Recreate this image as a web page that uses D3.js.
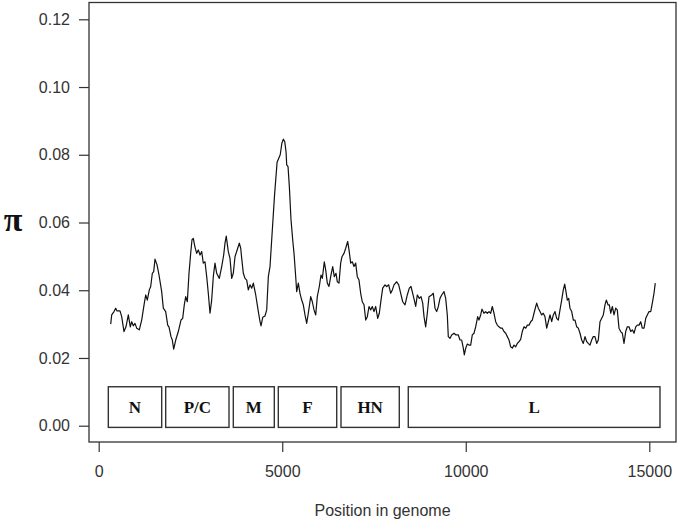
<!DOCTYPE html>
<html>
<head>
<meta charset="utf-8">
<script src="https://cdnjs.cloudflare.com/ajax/libs/d3/7.8.5/d3.min.js"></script>
<style>
  body{margin:0;background:#fff;}
  .tick text{font-family:"Liberation Sans",Arial,sans-serif;font-size:16px;fill:#333;}
  .genelbl{font-family:"Liberation Serif","Times New Roman",serif;font-weight:bold;font-size:17px;fill:#111;}
</style>
</head>
<body>
<div id="chart"></div>
<script>
// sliding window nucleotide diversity along the genome
var positions = [327,354,417,463,499,580,626,689,743,807,861,899,943,989,1035,1106,1171,1243,1281,1324,1379,1417,1461,1498,1534,1589,1643,1716,1760,1825,1880,1916,1970,2005,2043,2098,2169,2242,2288,2332,2370,2414,2460,2506,2542,2577,2620,2670,2714,2760,2806,2850,2896,2942,2986,3032,3078,3122,3168,3214,3286,3351,3405,3441,3475,3531,3577,3623,3667,3713,3787,3831,3869,3896,3940,3986,4032,4076,4122,4168,4213,4278,4349,4395,4422,4469,4530,4577,4621,4667,4713,4790,4860,4945,4990,5030,5068,5104,5122,5158,5194,5239,5285,5321,5367,5394,5438,5484,5530,5574,5620,5666,5710,5776,5820,5866,5912,5955,6010,6056,6092,6146,6184,6228,6274,6320,6375,6418,6465,6500,6546,6592,6628,6683,6729,6783,6819,6865,6909,6955,7001,7045,7091,7137,7181,7228,7274,7318,7364,7410,7454,7500,7546,7601,7645,7691,7737,7800,7846,7900,7955,7999,8045,8118,8173,8227,8282,8345,8407,8462,8508,8554,8598,8636,8680,8735,8781,8827,8863,8908,8952,8998,9072,9116,9162,9208,9253,9298,9344,9407,9453,9497,9524,9572,9616,9679,9733,9797,9843,9889,9933,9961,9999,10043,10089,10134,10178,10224,10270,10325,10360,10406,10442,10496,10543,10587,10633,10679,10723,10769,10815,10859,10905,10951,10995,11041,11088,11132,11178,11224,11268,11314,11360,11404,11450,11496,11540,11586,11633,11677,11723,11769,11813,11859,11906,11932,11976,12022,12068,12112,12158,12205,12249,12295,12341,12385,12431,12477,12521,12567,12613,12657,12695,12730,12766,12804,12839,12886,12930,12976,13022,13066,13112,13158,13202,13249,13295,13338,13384,13430,13474,13520,13567,13611,13657,13703,13747,13793,13829,13875,13911,13949,13993,14039,14085,14128,14174,14221,14265,14311,14357,14401,14448,14494,14538,14584,14630,14674,14720,14766,14810,14857,14903,14946,14992,15039,15082,15128,15163];
var piValues = [0.0300,0.0327,0.0337,0.0347,0.0339,0.0339,0.0322,0.0278,0.0292,0.0327,0.0292,0.0307,0.0295,0.0302,0.0288,0.0283,0.0312,0.0362,0.0386,0.0371,0.0401,0.0411,0.0450,0.0455,0.0492,0.0475,0.0445,0.0396,0.0347,0.0337,0.0297,0.0291,0.0263,0.0253,0.0226,0.0253,0.0278,0.0312,0.0317,0.0357,0.0381,0.0366,0.0450,0.0509,0.0549,0.0553,0.0529,0.0509,0.0519,0.0504,0.0514,0.0480,0.0484,0.0440,0.0391,0.0332,0.0371,0.0440,0.0480,0.0450,0.0435,0.0470,0.0504,0.0539,0.0560,0.0514,0.0494,0.0435,0.0450,0.0499,0.0524,0.0539,0.0524,0.0494,0.0450,0.0435,0.0430,0.0401,0.0416,0.0406,0.0421,0.0386,0.0337,0.0307,0.0295,0.0320,0.0324,0.0342,0.0440,0.0470,0.0549,0.0680,0.0778,0.0800,0.0834,0.0846,0.0839,0.0809,0.0770,0.0765,0.0706,0.0608,0.0549,0.0509,0.0440,0.0396,0.0421,0.0391,0.0371,0.0357,0.0327,0.0302,0.0332,0.0381,0.0366,0.0342,0.0327,0.0381,0.0411,0.0445,0.0435,0.0484,0.0460,0.0421,0.0411,0.0440,0.0470,0.0440,0.0450,0.0425,0.0421,0.0480,0.0499,0.0509,0.0524,0.0544,0.0519,0.0480,0.0484,0.0470,0.0480,0.0440,0.0430,0.0391,0.0366,0.0357,0.0312,0.0322,0.0352,0.0342,0.0352,0.0337,0.0352,0.0317,0.0332,0.0371,0.0406,0.0416,0.0411,0.0416,0.0391,0.0401,0.0416,0.0425,0.0416,0.0391,0.0366,0.0357,0.0386,0.0406,0.0411,0.0391,0.0371,0.0352,0.0386,0.0376,0.0381,0.0362,0.0322,0.0292,0.0332,0.0381,0.0386,0.0391,0.0347,0.0337,0.0352,0.0376,0.0386,0.0396,0.0376,0.0327,0.0263,0.0258,0.0268,0.0273,0.0268,0.0268,0.0253,0.0253,0.0229,0.0209,0.0229,0.0241,0.0238,0.0238,0.0268,0.0273,0.0292,0.0322,0.0312,0.0327,0.0344,0.0332,0.0337,0.0332,0.0337,0.0332,0.0352,0.0332,0.0307,0.0297,0.0292,0.0288,0.0288,0.0278,0.0273,0.0263,0.0253,0.0233,0.0229,0.0238,0.0233,0.0243,0.0248,0.0255,0.0278,0.0292,0.0288,0.0297,0.0297,0.0307,0.0312,0.0332,0.0352,0.0362,0.0347,0.0337,0.0327,0.0332,0.0322,0.0288,0.0307,0.0327,0.0307,0.0327,0.0337,0.0317,0.0312,0.0342,0.0371,0.0401,0.0418,0.0396,0.0371,0.0376,0.0347,0.0337,0.0312,0.0312,0.0292,0.0288,0.0273,0.0253,0.0243,0.0263,0.0248,0.0243,0.0238,0.0253,0.0263,0.0263,0.0243,0.0253,0.0307,0.0317,0.0327,0.0357,0.0371,0.0357,0.0357,0.0332,0.0352,0.0327,0.0347,0.0342,0.0288,0.0278,0.0273,0.0243,0.0278,0.0292,0.0292,0.0278,0.0283,0.0273,0.0292,0.0297,0.0297,0.0307,0.0288,0.0288,0.0317,0.0327,0.0337,0.0337,0.0362,0.0391,0.0421];

// gene map drawn under the curve
var geneNames = ["N","P/C","M","F","HN","L"];
var geneStart = [262,1825,3667,4893,6601,8434];
var geneEnd   = [1716,3550,4784,6484,8189,15291];

var xTicks = [0,5000,10000,15000];
var yTicks = [0,0.02,0.04,0.06,0.08,0.10,0.12];

var W = 680, H = 523;
var svg = d3.select("#chart").append("svg")
  .attr("width", W)
  .attr("height", H);

var x = d3.scaleLinear().domain([0,15000]).range([98.7,649.3]);
var y = d3.scaleLinear().domain([0,0.12]).range([425.7,19.3]);

// plot box
svg.append("rect")
  .attr("x",89).attr("y",2.5)
  .attr("width",676-89).attr("height",442-2.5)
  .style("fill","none").style("stroke","#333").style("stroke-width",1.3);

// axes (R style: ticks out, no domain line)
var xAxis = svg.append("g")
  .attr("transform","translate(0,442)")
  .call(d3.axisBottom(x).tickValues(xTicks).tickFormat(d3.format("d")).tickSize(10).tickPadding(14));
var yAxis = svg.append("g")
  .attr("transform","translate(89,0)")
  .call(d3.axisLeft(y).tickValues(yTicks).tickFormat(d3.format(".2f")).tickSize(10).tickPadding(9));
svg.selectAll(".domain").remove();
svg.selectAll(".tick line").style("stroke","#333").style("stroke-width",1.2);

// gene boxes
var genes = geneNames.map(function(n,i){return {name:n,start:geneStart[i],end:geneEnd[i]};});
svg.selectAll(".gene")
  .data(genes)
  .enter()
  .append("rect")
  .attr("class","gene")
  .attr("x",function(d){return x(d.start);})
  .attr("y",y(0.0115))
  .attr("width",function(d){return x(d.end)-x(d.start);})
  .attr("height",y(-0.0005)-y(0.0115))
  .style("fill","#fff").style("stroke","#333").style("stroke-width",1.4);
svg.selectAll(".genelbl")
  .data(genes)
  .enter()
  .append("text")
  .attr("class","genelbl")
  .attr("x",function(d){return (x(d.start)+x(d.end))/2;})
  .attr("y",y(0.0055))
  .attr("dy","0.34em")
  .attr("text-anchor","middle")
  .text(function(d){return d.name;});

// diversity curve
var pts = positions.map(function(p,i){return [p,piValues[i]];});
var line = d3.line()
  .x(function(d){return x(d[0]);})
  .y(function(d){return y(d[1]);});
svg.append("path")
  .datum(pts)
  .attr("d",line)
  .style("fill","none").style("stroke","#111").style("stroke-width",1.2)
  .style("stroke-linejoin","round");

// titles
svg.append("text")
  .attr("x",382.5).attr("y",516)
  .attr("text-anchor","middle")
  .style("font-family","'Liberation Sans',Arial,sans-serif")
  .style("font-size","16px").style("fill","#333")
  .text("Position in genome");
svg.append("text")
  .attr("x",13).attr("y",231)
  .attr("text-anchor","middle")
  .style("font-family","'Liberation Serif','Times New Roman',serif")
  .style("font-weight","bold")
  .style("font-size","34px").style("fill","#111")
  .text("π");
</script>
</body>
</html>
